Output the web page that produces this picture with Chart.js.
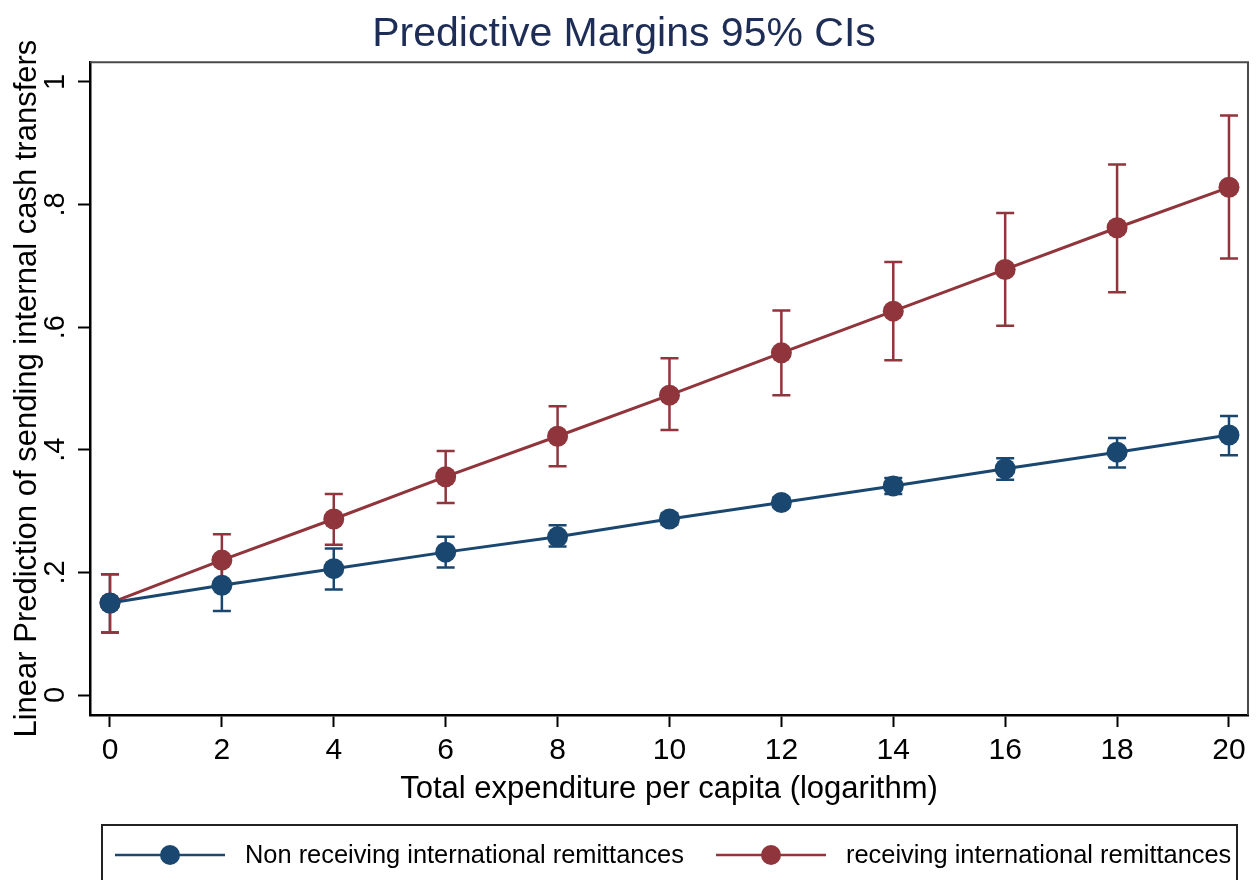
<!DOCTYPE html>
<html>
<head>
<meta charset="utf-8">
<script src="https://cdn.jsdelivr.net/npm/chart.js@4.4.1/dist/chart.umd.min.js"></script>
<style>
  html, body { margin: 0; padding: 0; background: #fff; }
  #wrap { width: 1259px; height: 880px; }
</style>
</head>
<body>
<div id="wrap"><canvas id="myChart" width="1259" height="880"></canvas></div>
<script>
// data
const xValues = [0, 2, 4, 6, 8, 10, 12, 14, 16, 18, 20];

const nonRecv     = [0.150, 0.179, 0.206, 0.233, 0.258, 0.287, 0.314, 0.341, 0.369, 0.396, 0.424];
const nonRecvLow  = [0.102, 0.137, 0.172, 0.208, 0.242, 0.278, 0.306, 0.328, 0.351, 0.371, 0.391];
const nonRecvHigh = [0.197, 0.221, 0.239, 0.258, 0.277, 0.296, 0.322, 0.354, 0.386, 0.419, 0.455];

const recv     = [0.150, 0.220, 0.287, 0.356, 0.422, 0.489, 0.558, 0.626, 0.694, 0.762, 0.828];
const recvLow  = [0.102, 0.178, 0.245, 0.313, 0.373, 0.432, 0.489, 0.546, 0.602, 0.657, 0.712];
const recvHigh = [0.197, 0.262, 0.328, 0.398, 0.471, 0.549, 0.627, 0.706, 0.786, 0.865, 0.945];

const xTicks = [0, 2, 4, 6, 8, 10, 12, 14, 16, 18, 20];
const yTicks = [0, 0.2, 0.4, 0.6, 0.8, 1];
const yTickLabels = ["0", ".2", ".4", ".6", ".8", "1"];

const seriesNames = ["Non receiving international remittances", "receiving international remittances"];

const BLUE = "#1a476f";
const RED = "#90353b";
const FONT = "'Liberation Sans', Arial, Helvetica, sans-serif";

const toPoints = (ys) => xValues.map((x, i) => ({ x: x, y: ys[i] }));

// confidence interval bars, drawn under the lines
const ciBars = {
  id: "ciBars",
  beforeDatasetsDraw(chart) {
    const { ctx, scales: { x, y } } = chart;
    const sets = [
      { lo: nonRecvLow, hi: nonRecvHigh, color: BLUE },
      { lo: recvLow, hi: recvHigh, color: RED },
    ];
    ctx.save();
    ctx.lineWidth = 2.5;
    sets.forEach((s) => {
      ctx.strokeStyle = s.color;
      xValues.forEach((xv, i) => {
        const px = x.getPixelForValue(xv);
        const top = y.getPixelForValue(s.hi[i]);
        const bot = y.getPixelForValue(s.lo[i]);
        ctx.beginPath();
        ctx.moveTo(px, top);
        ctx.lineTo(px, bot);
        ctx.moveTo(px - 9, top);
        ctx.lineTo(px + 9, top);
        ctx.moveTo(px - 9, bot);
        ctx.lineTo(px + 9, bot);
        ctx.stroke();
      });
    });
    ctx.restore();
  },
};

// stata look: plot box, rotated y labels, legend box at the bottom
const stataBits = {
  id: "stataBits",
  afterDraw(chart) {
    const { ctx, chartArea: a, scales: { y } } = chart;
    ctx.save();

    // top and right edge of the plot region
    ctx.strokeStyle = "#4a4a4a";
    ctx.lineWidth = 2;
    ctx.beginPath();
    ctx.moveTo(a.left, a.top);
    ctx.lineTo(a.right, a.top);
    ctx.lineTo(a.right, a.bottom);
    ctx.stroke();

    // y tick labels, turned like stata does
    ctx.fillStyle = "#000";
    ctx.font = "29px " + FONT;
    ctx.textAlign = "center";
    ctx.textBaseline = "middle";
    yTicks.forEach((v, i) => {
      ctx.save();
      ctx.translate(56, y.getPixelForValue(v));
      ctx.rotate(-Math.PI / 2);
      ctx.fillText(yTickLabels[i], 0, 0);
      ctx.restore();
    });

    // legend
    ctx.strokeStyle = "#222";
    ctx.lineWidth = 2;
    ctx.strokeRect(102, 825, 1135, 90);

    const items = [
      { x0: 115, color: BLUE, text: seriesNames[0] },
      { x0: 716, color: RED, text: seriesNames[1] },
    ];
    ctx.font = "25.4px " + FONT;
    ctx.textAlign = "left";
    items.forEach((it) => {
      const ly = 855;
      ctx.strokeStyle = it.color;
      ctx.lineWidth = 2.5;
      ctx.beginPath();
      ctx.moveTo(it.x0, ly);
      ctx.lineTo(it.x0 + 110, ly);
      ctx.stroke();
      ctx.fillStyle = it.color;
      ctx.beginPath();
      ctx.arc(it.x0 + 55, ly, 10, 0, Math.PI * 2);
      ctx.fill();
      ctx.fillStyle = "#000";
      ctx.fillText(it.text, it.x0 + 130, ly + 1);
    });

    ctx.restore();
  },
};

const ctx = document.getElementById("myChart").getContext("2d");

new Chart(ctx, {
  type: "line",
  data: {
    datasets: [
      {
        label: seriesNames[0],
        data: toPoints(nonRecv),
        borderColor: BLUE,
        backgroundColor: BLUE,
        borderWidth: 3,
        pointRadius: 10.5,
        pointBorderWidth: 0,
        pointBackgroundColor: BLUE,
        tension: 0,
      },
      {
        label: seriesNames[1],
        data: toPoints(recv),
        borderColor: RED,
        backgroundColor: RED,
        borderWidth: 3,
        pointRadius: 10.5,
        pointBorderWidth: 0,
        pointBackgroundColor: RED,
        tension: 0,
      },
    ],
  },
  options: {
    responsive: false,
    animation: false,
    layout: { padding: { left: 0, right: 11, top: 0, bottom: 70 } },
    plugins: {
      legend: { display: false },
      tooltip: { enabled: false },
      title: {
        display: true,
        text: "Predictive Margins 95% CIs",
        color: "#1e2d55",
        font: { family: FONT, size: 41, weight: "normal" },
        padding: { top: 10, bottom: 3 },
      },
    },
    scales: {
      x: {
        type: "linear",
        min: -0.357,
        max: 20.34,
        afterBuildTicks: (s) => { s.ticks = xTicks.map((v) => ({ value: v })); },
        afterFit: (s) => { s.height = 95; },
        ticks: {
          color: "#000",
          font: { family: FONT, size: 30 },
          padding: 6,
          maxRotation: 0,
          callback: (v) => String(v),
        },
        grid: {
          drawOnChartArea: false,
          drawTicks: true,
          tickLength: 12,
          tickColor: "#000",
          tickWidth: 2,
        },
        border: { color: "#000", width: 2.5 },
        title: {
          display: true,
          text: "Total expenditure per capita (logarithm)",
          color: "#000",
          font: { family: FONT, size: 31 },
          padding: { top: 0, bottom: 2 },
        },
      },
      y: {
        type: "linear",
        min: -0.0326,
        max: 1.032,
        afterBuildTicks: (s) => { s.ticks = yTicks.map((v) => ({ value: v })); },
        afterFit: (s) => { s.width = 90; },
        ticks: {
          color: "rgba(0,0,0,0)", // drawn turned in the plugin
          font: { family: FONT, size: 28 },
          callback: (v) => "",
        },
        grid: {
          drawOnChartArea: false,
          drawTicks: true,
          tickLength: 12,
          tickColor: "#000",
          tickWidth: 2,
        },
        border: { color: "#000", width: 2.5 },
        title: {
          display: true,
          text: "Linear Prediction of sending internal cash transfers",
          color: "#000",
          font: { family: FONT, size: 31 },
          padding: { top: 9, bottom: 0 },
        },
      },
    },
  },
  plugins: [ciBars, stataBits],
});
</script>
</body>
</html>
